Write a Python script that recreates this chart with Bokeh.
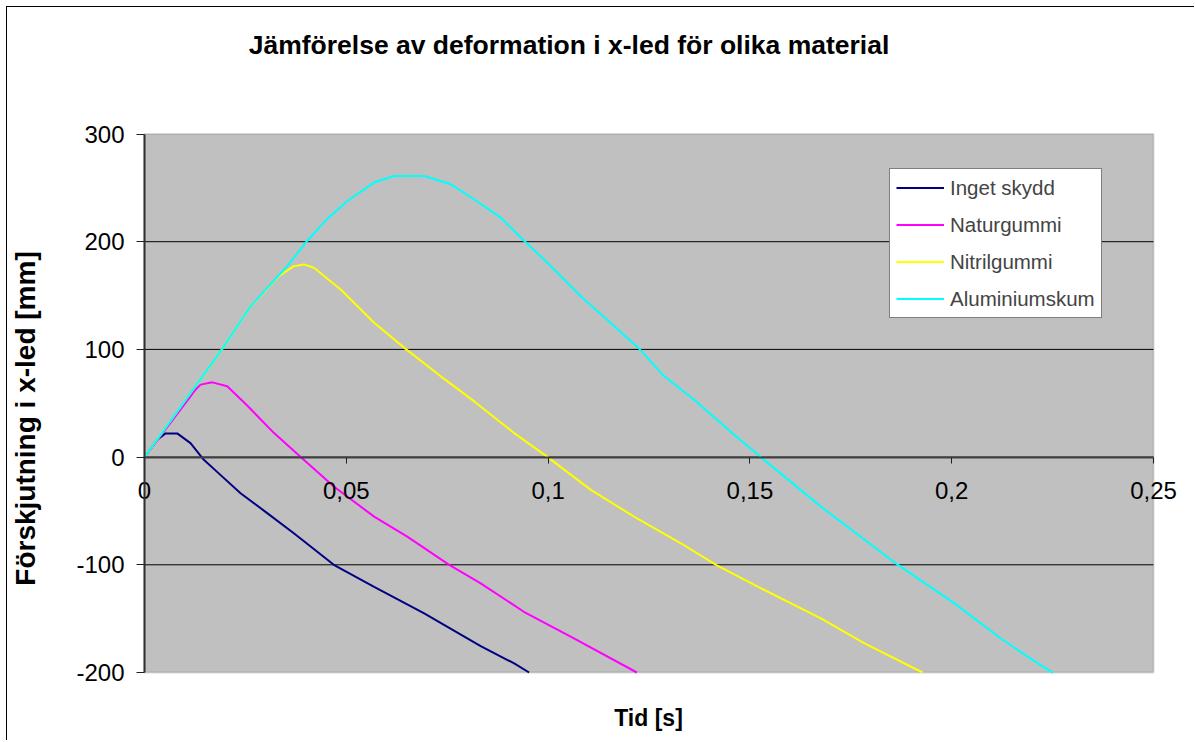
from bokeh.plotting import figure
from bokeh.models import Range1d, FixedTicker, Legend, LegendItem, Label, BoxAnnotation
from bokeh.embed import file_html
from bokeh.resources import INLINE
import math

# ---------------- data ----------------
title_text = "Jämförelse av deformation i x-led för olika material"
x_label_text = "Tid [s]"
y_label_text = "Förskjutning i x-led [mm]"

x_min, x_max = 0, 0.25
y_min, y_max = -200, 300
x_ticks = [0, 0.05, 0.1, 0.15, 0.2, 0.25]
x_tick_labels = ["0", "0,05", "0,1", "0,15", "0,2", "0,25"]
y_ticks = [-200, -100, 0, 100, 200, 300]
y_tick_labels = ["-200", "-100", "0", "100", "200", "300"]

series_names = ["Inget skydd", "Naturgummi", "Nitrilgummi", "Aluminiumskum"]
series_colors = ["#000080", "#FF00FF", "#FFFF00", "#00FFFF"]

inget_t = [0, 0.0031, 0.0052, 0.0081, 0.0114, 0.0147, 0.0188, 0.0238, 0.0304,
           0.037, 0.0469, 0.0569, 0.0693, 0.0833, 0.0916, 0.0953]
inget_y = [0, 16, 22, 22, 13, -2.5, -16.5, -33.5, -52, -70.7, -100, -120.4,
           -145, -175.5, -191.6, -200]

natur_t = [0, 0.0105, 0.0125, 0.0139, 0.0168, 0.0205, 0.025, 0.0321, 0.0387,
           0.0469, 0.0569, 0.0651, 0.0755, 0.0833, 0.094, 0.1064, 0.122]
natur_y = [0, 52, 62, 67.3, 69.4, 65.7, 49.6, 22.3, 0, -27.3, -55.3, -73.9,
           -100, -117.2, -143.6, -168.4, -200]

nitril_t = [0, 0.00934, 0.01926, 0.02628, 0.0333, 0.037, 0.0395, 0.042, 0.0486,
            0.0569, 0.0647, 0.0734, 0.0817, 0.0916, 0.0999, 0.1106, 0.1213,
            0.1329, 0.1416, 0.1536, 0.1676, 0.1784, 0.1928]
nitril_y = [0, 48.7, 100.5, 140, 168, 177.3, 178.9, 175.8, 155.6, 124.7, 100.5,
            75, 51.7, 22.3, 0, -30.4, -55.3, -80, -100, -123.4, -149.8, -173,
            -200]

alu_t = [0, 0.00934, 0.01926, 0.02628, 0.03538, 0.04034, 0.0453, 0.05026,
         0.05686, 0.06182, 0.06926, 0.0759, 0.08165, 0.08827, 0.09405, 0.099,
         0.1081, 0.1164, 0.1226, 0.1288, 0.1362, 0.1461, 0.1527, 0.1676,
         0.1866, 0.2007, 0.2122, 0.2189, 0.2251]
alu_y = [0, 48.7, 100.5, 140, 177.3, 200.9, 221.4, 237.8, 254.9, 261, 261,
         253.3, 239.4, 222.3, 200.9, 183.5, 149.4, 121.5, 100.5, 75, 53.3,
         20.7, 0, -46, -99.9, -135.8, -168.4, -185.5, -200.4]

series_t = [inget_t, natur_t, nitril_t, alu_t]
series_y = [inget_y, natur_y, nitril_y, alu_y]

# ---------------- layout (pixels on the canvas) ----------------
W, H = 1188, 734                 # canvas, placed at (7, 7) in the page
PL, PR, PT, PB = 137, 1146, 126.5, 665   # plot-area edges on the canvas
xs = (x_max - x_min) / (PR - PL)
ys = (y_max - y_min) / (PB - PT)
x_range = Range1d(x_min - PL * xs, x_max + (W - PR) * xs)
y_range = Range1d(y_min - (H - PB) * ys, y_max + PT * ys)

p = figure(width=W, height=H, output_backend="svg", toolbar_location=None,
           x_range=x_range, y_range=y_range, title=None,
           min_border_left=0, min_border_right=0,
           min_border_top=0, min_border_bottom=0)
p.styles = {"margin-left": "6px", "margin-top": "6px",
            "border-left": "1px solid #000000", "border-top": "1px solid #000000"}

p.background_fill_color = "white"
p.border_fill_color = "white"
p.outline_line_color = None
p.xgrid.visible = False
p.ygrid.visible = False

FONT = "Liberation Sans"

# plot area
p.add_layout(BoxAnnotation(left=x_min, right=x_max, bottom=y_min, top=y_max,
                           fill_color="#C0C0C0", fill_alpha=1.0,
                           line_color="#808080", line_width=2, level="underlay"))

# horizontal gridlines
inner = [t for t in y_ticks if y_min < t < y_max]
p.segment(x0=x_min, x1=x_max, y0=inner, y1=inner, line_color="black", line_width=1)

xa = p.xaxis[0]
xa.fixed_location = 0
xa.bounds = (x_min, x_max)
xa.ticker = FixedTicker(ticks=x_ticks)
xa.major_label_overrides = {t: l for t, l in zip(x_ticks, x_tick_labels)}
xa.major_tick_in = 0
xa.major_tick_out = 6
xa.minor_tick_line_color = None
xa.axis_line_color = "#404040"
xa.axis_line_width = 2
xa.major_tick_line_color = "#202020"
xa.major_label_text_font = FONT
xa.major_label_text_font_size = "24px"
xa.major_label_text_color = "black"
xa.major_label_standoff = 19

ya = p.yaxis[0]
ya.fixed_location = 0
ya.bounds = (y_min, y_max)
ya.ticker = FixedTicker(ticks=y_ticks)
ya.major_label_overrides = {t: l for t, l in zip(y_ticks, y_tick_labels)}
ya.major_tick_in = 0
ya.major_tick_out = 8
ya.minor_tick_line_color = None
ya.axis_line_color = "#303030"
ya.axis_line_width = 2
ya.major_tick_line_color = "#202020"
ya.major_label_text_font = FONT
ya.major_label_text_font_size = "24px"
ya.major_label_text_color = "black"
ya.major_label_standoff = 12

renderers = []
for t, y, c in zip(series_t, series_y, series_colors):
    r = p.line(t, y, line_color=c, line_width=2)
    renderers.append(r)

legend = Legend(items=[LegendItem(label=n, renderers=[r]) for n, r in zip(series_names, renderers)],
                location=(882, 423),
                label_text_font=FONT, label_text_font_size="20.5px",
                glyph_width=48, glyph_height=25, label_height=25,
                label_standoff=6, padding=6, spacing=12,
                border_line_color="black", border_line_width=1,
                background_fill_color="white", background_fill_alpha=1.0)
p.add_layout(legend)

p.add_layout(Label(x=561.5, y=697, x_units="screen", y_units="screen", text=title_text,
                   text_align="center", text_baseline="middle", text_font=FONT,
                   text_font_style="bold", text_font_size="26.5px", text_color="black"))
p.add_layout(Label(x=18, y=323, x_units="screen", y_units="screen", text=y_label_text,
                   angle=math.pi / 2, text_align="center", text_baseline="middle",
                   text_font=FONT, text_font_style="bold", text_font_size="28px",
                   text_color="black"))
p.add_layout(Label(x=641, y=24, x_units="screen", y_units="screen", text=x_label_text,
                   text_align="center", text_baseline="middle", text_font=FONT,
                   text_font_style="bold", text_font_size="23px", text_color="black"))

open("out.html", "w").write(file_html(p, INLINE))
